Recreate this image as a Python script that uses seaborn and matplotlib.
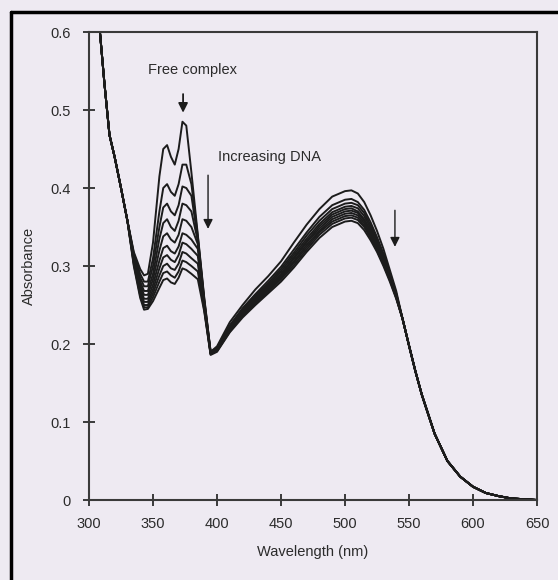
import matplotlib
matplotlib.use("Agg")
import matplotlib.pyplot as plt
import seaborn as sns
import pandas as pd
from matplotlib.lines import Line2D

# Wavelength segments (nm)
wl_left = [300, 304, 308, 312, 316, 320, 325, 330]
wl_uv = [335, 340, 343, 346, 350, 355, 358, 361, 364, 367, 370, 373, 376, 380, 385, 390, 395]
wl_band = [400, 410, 420, 430, 440, 450, 460, 470, 480, 490, 500, 505, 510, 515, 520, 525, 530, 535, 540]
wl_right = [545, 550, 555, 560, 570, 580, 590, 600, 610, 620, 630, 640, 650]

# Shared parts of the spectra (all titration points overlap here)
abs_left = [0.80, 0.70, 0.61, 0.535, 0.468, 0.44, 0.40, 0.358]
abs_right = [0.232, 0.198, 0.165, 0.135, 0.085, 0.05, 0.03, 0.017, 0.009, 0.005, 0.002, 0.001, 0.0]

# UV region, free complex first, then increasing DNA
abs_uv = [
    [0.318, 0.296, 0.288, 0.290, 0.330, 0.415, 0.450, 0.455, 0.440, 0.430, 0.450, 0.485, 0.480, 0.420, 0.340, 0.260, 0.190],
    [0.316, 0.290, 0.280, 0.280, 0.310, 0.370, 0.400, 0.405, 0.395, 0.390, 0.405, 0.430, 0.430, 0.405, 0.338, 0.258, 0.190],
    [0.314, 0.285, 0.274, 0.274, 0.300, 0.350, 0.375, 0.380, 0.370, 0.365, 0.378, 0.402, 0.400, 0.390, 0.335, 0.256, 0.190],
    [0.312, 0.280, 0.268, 0.268, 0.290, 0.335, 0.355, 0.360, 0.350, 0.345, 0.358, 0.380, 0.378, 0.370, 0.332, 0.254, 0.189],
    [0.310, 0.276, 0.263, 0.263, 0.283, 0.320, 0.338, 0.342, 0.334, 0.330, 0.340, 0.360, 0.358, 0.350, 0.328, 0.252, 0.189],
    [0.308, 0.272, 0.258, 0.258, 0.276, 0.307, 0.323, 0.326, 0.319, 0.316, 0.325, 0.342, 0.340, 0.334, 0.322, 0.250, 0.188],
    [0.306, 0.268, 0.254, 0.254, 0.270, 0.297, 0.311, 0.314, 0.308, 0.305, 0.314, 0.330, 0.328, 0.322, 0.313, 0.248, 0.188],
    [0.304, 0.265, 0.250, 0.250, 0.265, 0.288, 0.300, 0.303, 0.297, 0.295, 0.303, 0.318, 0.316, 0.310, 0.303, 0.246, 0.187],
    [0.302, 0.262, 0.247, 0.247, 0.260, 0.280, 0.291, 0.293, 0.288, 0.285, 0.293, 0.307, 0.305, 0.300, 0.293, 0.244, 0.187],
    [0.300, 0.259, 0.244, 0.245, 0.255, 0.272, 0.282, 0.284, 0.279, 0.277, 0.285, 0.297, 0.295, 0.290, 0.283, 0.242, 0.186],
]

# Visible band (MLCT region)
abs_band = [
    [0.197, 0.228, 0.250, 0.270, 0.287, 0.306, 0.330, 0.353, 0.373, 0.389, 0.396, 0.397, 0.393, 0.382, 0.365, 0.345, 0.322, 0.295, 0.268],
    [0.195, 0.224, 0.246, 0.264, 0.281, 0.299, 0.321, 0.343, 0.363, 0.378, 0.385, 0.386, 0.382, 0.372, 0.356, 0.337, 0.316, 0.291, 0.265],
    [0.194, 0.223, 0.244, 0.262, 0.278, 0.296, 0.317, 0.339, 0.358, 0.373, 0.380, 0.381, 0.378, 0.368, 0.352, 0.334, 0.313, 0.289, 0.264],
    [0.193, 0.221, 0.242, 0.260, 0.276, 0.293, 0.314, 0.335, 0.354, 0.369, 0.376, 0.377, 0.374, 0.364, 0.349, 0.331, 0.311, 0.287, 0.263],
    [0.193, 0.220, 0.240, 0.258, 0.274, 0.290, 0.311, 0.332, 0.351, 0.366, 0.373, 0.374, 0.370, 0.360, 0.346, 0.329, 0.309, 0.286, 0.262],
    [0.192, 0.219, 0.239, 0.257, 0.272, 0.289, 0.309, 0.330, 0.348, 0.363, 0.370, 0.371, 0.368, 0.358, 0.344, 0.327, 0.307, 0.285, 0.261],
    [0.192, 0.218, 0.238, 0.255, 0.271, 0.287, 0.306, 0.327, 0.345, 0.360, 0.367, 0.368, 0.365, 0.355, 0.341, 0.325, 0.306, 0.284, 0.260],
    [0.191, 0.217, 0.237, 0.254, 0.269, 0.285, 0.304, 0.324, 0.343, 0.357, 0.364, 0.365, 0.362, 0.352, 0.339, 0.323, 0.304, 0.283, 0.260],
    [0.191, 0.216, 0.236, 0.252, 0.267, 0.283, 0.301, 0.321, 0.340, 0.354, 0.361, 0.362, 0.359, 0.350, 0.336, 0.320, 0.302, 0.282, 0.259],
    [0.190, 0.215, 0.234, 0.250, 0.265, 0.280, 0.298, 0.318, 0.336, 0.350, 0.357, 0.358, 0.355, 0.346, 0.333, 0.318, 0.300, 0.280, 0.258],
]

x_ticks = [300, 350, 400, 450, 500, 550, 600, 650]
y_ticks = [0, 0.1, 0.2, 0.3, 0.4, 0.5, 0.6]
y_ticklabels = ["0", "0.1", "0.2", "0.3", "0.4", "0.5", "0.6"]

# long-form table for seaborn
rows = []
wl_all = wl_left + wl_uv + wl_band + wl_right
for i in range(len(abs_uv)):
    vals = abs_left + abs_uv[i] + abs_band[i] + abs_right
    for w, a in zip(wl_all, vals):
        rows.append({"wavelength": w, "absorbance": a, "curve": i})
df = pd.DataFrame(rows)

sns.set_style("ticks")
plt.rcParams["font.family"] = ["Liberation Sans", "DejaVu Sans"]

bg = "#eeeaf2"
ink = "#2b2b2b"

fig = plt.figure(figsize=(5.58, 5.80), dpi=100, facecolor=bg)
ax = fig.add_axes([0.1595, 0.1379, 0.8029, 0.8069], facecolor=bg)

sns.lineplot(data=df, x="wavelength", y="absorbance", hue="curve",
             palette=["#1c1c1c"] * len(abs_uv), linewidth=1.4,
             legend=False, ax=ax, sort=True)

ax.set_xlim(300, 650)
ax.set_ylim(0, 0.6)
ax.set_xticks(x_ticks)
ax.set_xticklabels([str(t) for t in x_ticks])
ax.set_yticks(y_ticks)
ax.set_yticklabels(y_ticklabels)
ax.tick_params(direction="inout", length=9, width=1.4, colors="#3a3a3a",
               labelsize=10.5, labelcolor=ink)
ax.tick_params(axis="x", pad=8)
ax.tick_params(axis="y", pad=9)
for s in ax.spines.values():
    s.set_linewidth(1.5)
    s.set_color("#3a3a3a")

ax.set_xlabel("Wavelength (nm)", fontsize=10.5, color=ink, labelpad=10)
ax.set_ylabel("Absorbance", fontsize=10.5, color=ink, labelpad=10)

# annotations
ax.text(381, 0.551, "Free complex", ha="center", va="center", fontsize=10.5, color=ink)
ax.annotate("", xy=(373.5, 0.493), xytext=(373.5, 0.524),
            arrowprops=dict(arrowstyle="-|>", color="#1c1c1c", lw=1.3, mutation_scale=14))
ax.text(401, 0.44, "Increasing DNA", ha="left", va="center", fontsize=10.5, color=ink)
ax.annotate("", xy=(393, 0.344), xytext=(393, 0.42),
            arrowprops=dict(arrowstyle="-|>", color="#1c1c1c", lw=1.0, mutation_scale=14))
ax.annotate("", xy=(539, 0.321), xytext=(539, 0.375),
            arrowprops=dict(arrowstyle="-|>", color="#1c1c1c", lw=1.0, mutation_scale=14))

# scanned page border (top and left)
fig.add_artist(Line2D([11 / 558, 11 / 558], [0, 1 - 12 / 580], color="black", lw=2.5, transform=fig.transFigure))
fig.add_artist(Line2D([11 / 558, 1], [1 - 12 / 580, 1 - 12 / 580], color="black", lw=2.5, transform=fig.transFigure))

plt.savefig("out.png", dpi=100, facecolor=bg)
